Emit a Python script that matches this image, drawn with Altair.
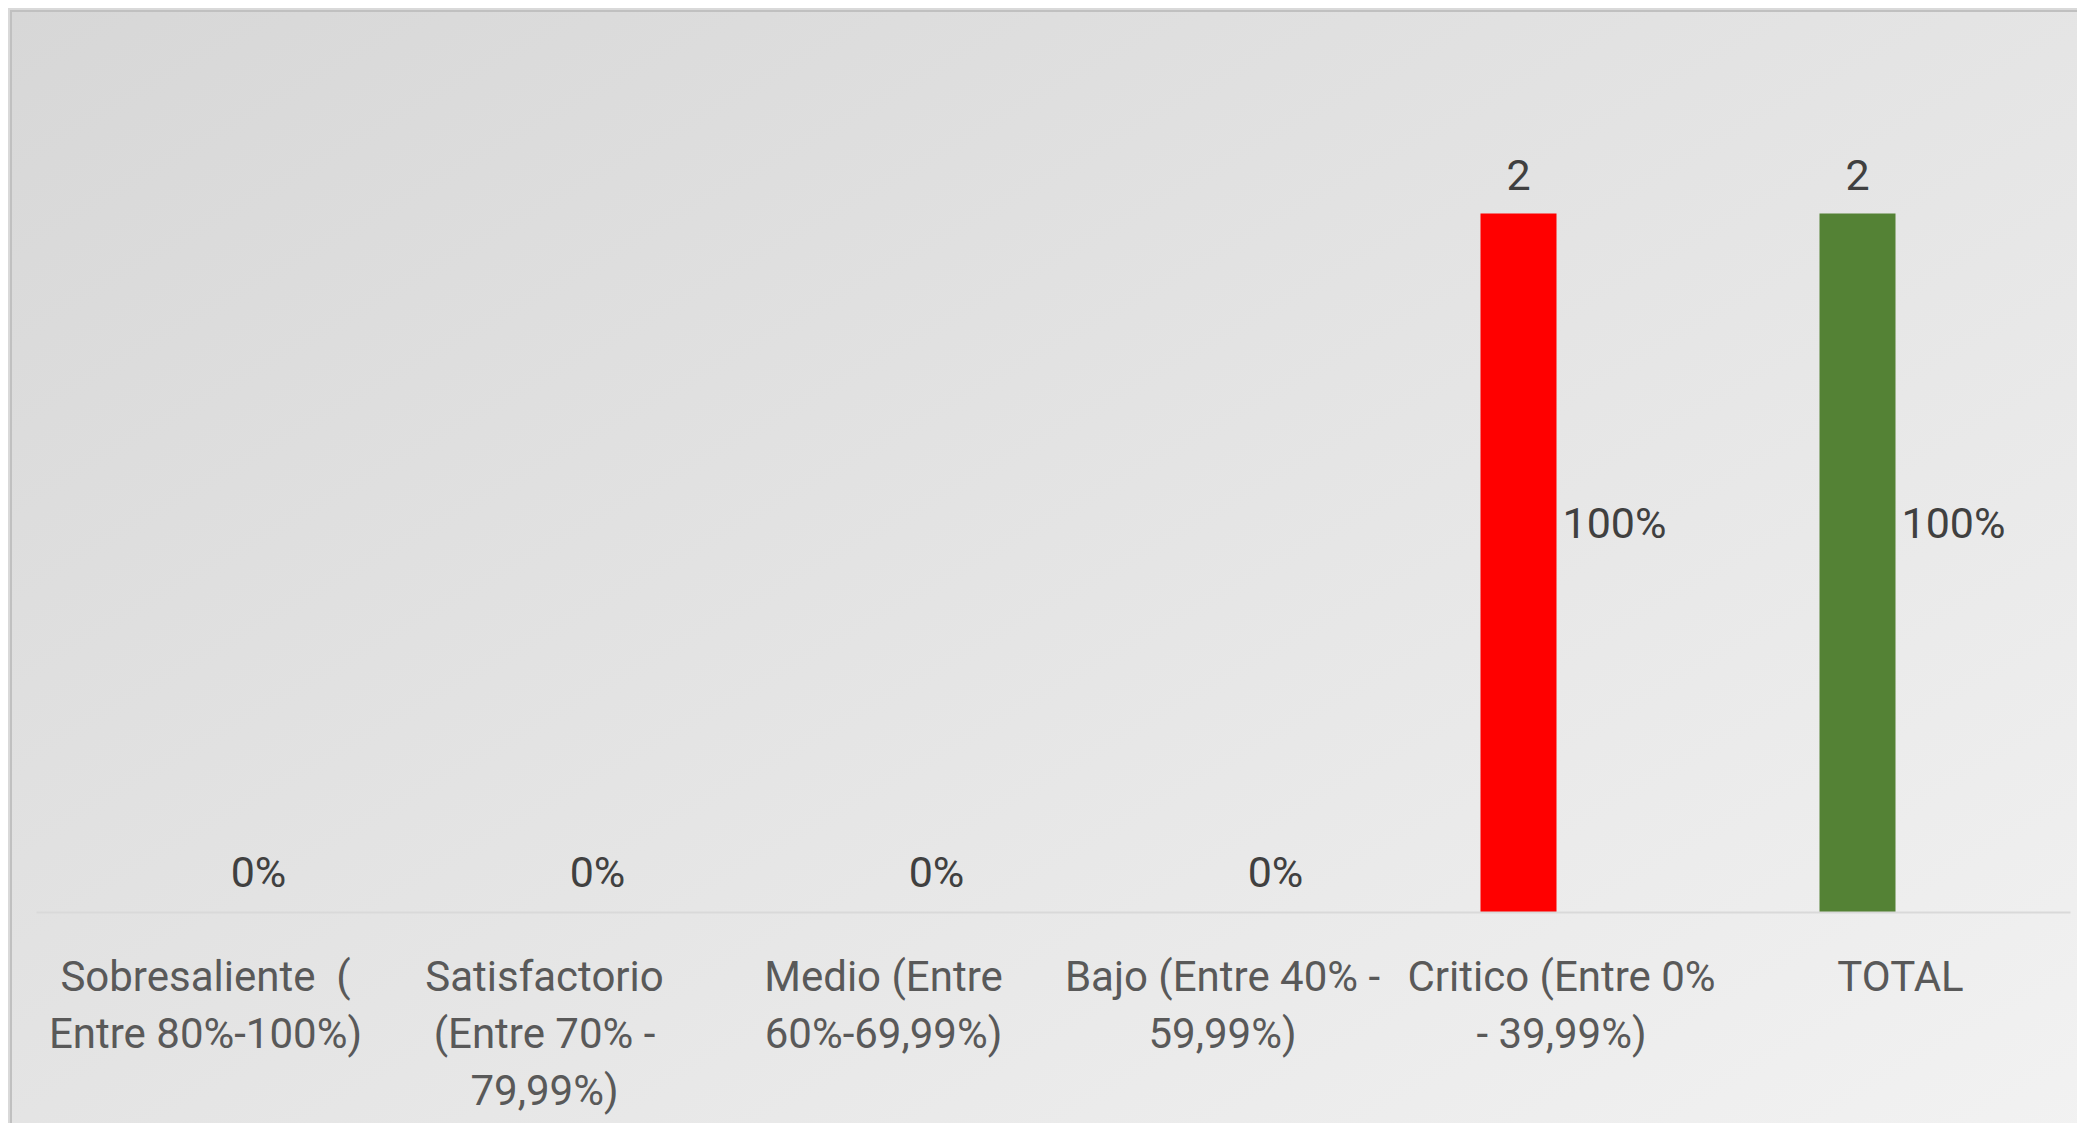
import altair as alt
import pandas as pd

categories = [
    "Sobresaliente\u00a0 (|Entre 80%-100%)",
    "Satisfactorio|(Entre 70% -|79,99%)",
    "Medio (Entre|60%-69,99%)",
    "Bajo (Entre 40% -|59,99%)",
    "Critico (Entre 0%|- 39,99%)",
    "TOTAL",
]
counts = [0, 0, 0, 0, 2, 2]
shares = [0.0, 0.0, 0.0, 0.0, 1.0, 1.0]
share_labels = ["0%", "0%", "0%", "0%", "100%", "100%"]
bar_colors = ["#4472c4", "#70ad47", "#ffc000", "#ed7d31", "#ff0000", "#548235"]

df = pd.DataFrame({
    "cat": categories,
    "count": counts,
    "share": shares,
    "share_label": share_labels,
    "color": bar_colors,
})

W, H = 2034, 873
FONT = "Roboto"

x = alt.X(
    "cat:N",
    sort=categories,
    scale=alt.Scale(paddingInner=0, paddingOuter=0),
    axis=alt.Axis(
        title=None,
        labelExpr="split(datum.label, '|')",
        labelAngle=0,
        labelFont=FONT,
        labelFontSize=42,
        labelColor="#595959",
        labelLineHeight=57,
        labelLimit=0,
        labelPadding=45,
        ticks=False,
        tickSize=0,
        domainColor="#d9d9d9",
        domainWidth=2,
        grid=False,
        zindex=1,
    ),
)
yscale = alt.Scale(domain=[0, 2.5])

gradient = alt.LinearGradient(
    gradient="linear",
    stops=[
        alt.GradientStop(offset=0, color="#d7d7d7"),
        alt.GradientStop(offset=1, color="#f3f3f3"),
    ],
    x1=0, y1=0, x2=1, y2=1,
)

bg = alt.Chart(pd.DataFrame({"bg": [0]})).mark_rect(
    fill=gradient, stroke="#c0c0c0", strokeWidth=2
).encode(
    x=alt.value(-25), x2=alt.value(W + 60),
    y=alt.value(-28), y2=alt.value(H + 300),
)

base = alt.Chart(df)

bars = base.mark_bar(width=76, xOffset=-43).encode(
    x=x,
    y=alt.Y("count:Q", scale=yscale, axis=None),
    color=alt.Color("color:N", scale=None),
)

count_text = base.transform_filter("datum.count > 0").mark_text(
    xOffset=-43, dy=-37, baseline="middle", font=FONT, fontSize=43, color="#404040"
).encode(
    x=x,
    y=alt.Y("count:Q", scale=yscale, axis=None),
    text="count:Q",
)

share_text = base.mark_text(
    xOffset=53, dy=-38, baseline="middle", font=FONT, fontSize=43, color="#404040"
).encode(
    x=x,
    y=alt.Y("share:Q", scale=yscale, axis=None),
    text="share_label:N",
)

chart = alt.layer(bg, bars, count_text, share_text).properties(
    width=W,
    height=H,
    autosize=alt.AutoSizeParams(type="none"),
    padding={"left": 28, "top": 31, "right": 7, "bottom": 211},
    background="#d9d9d9",
).configure_view(stroke=None)

chart.save("out.html", embed_options={"renderer": "svg", "actions": False})
